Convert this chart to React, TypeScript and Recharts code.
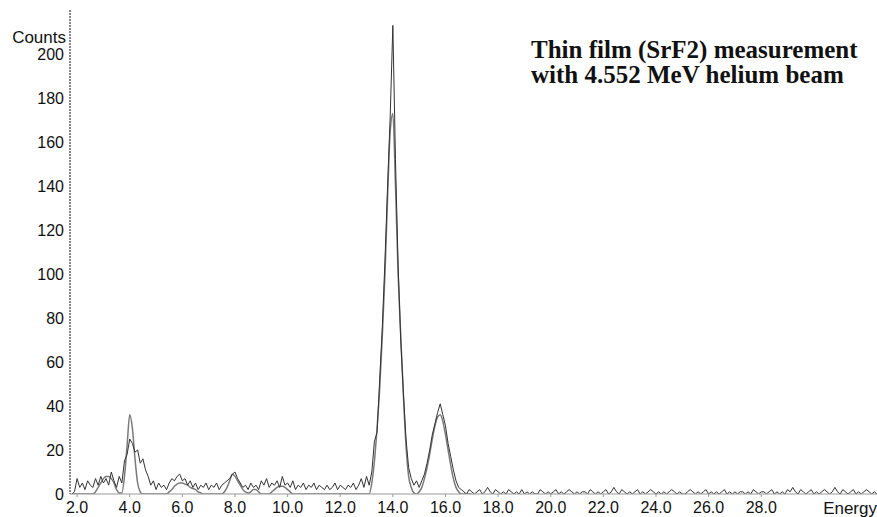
import { LineChart, Line, XAxis, YAxis } from 'recharts';

// spectrum channels: energy = START + i * STEP
const START = 1.8;
const STEP = 0.1;

const measured = [
  0, 1,
  7, 3, 5, 2, 6, 4, 3, 7, 4, 8,
  5, 7, 4, 10, 6, 3, 8, 5, 15, 18,
  25, 23, 19, 20, 14, 16, 11, 8, 4, 6,
  2, 5, 3, 4, 2, 5, 7, 6, 8, 9,
  6, 7, 4, 6, 3, 5, 2, 4, 3, 5,
  2, 4, 3, 5, 2, 4, 5, 6, 7, 9,
  10, 7, 5, 3, 4, 2, 5, 3, 4, 2,
  6, 4, 7, 3, 5, 4, 6, 3, 8, 4,
  5, 3, 6, 2, 4, 3, 5, 2, 4, 3,
  5, 2, 4, 3, 2, 4, 2, 3, 5, 2,
  4, 3, 2, 4, 3, 5, 2, 4, 7, 3,
  8, 4, 10, 24, 28, 52, 76, 106, 140, 172,
  213, 152, 104, 70, 46, 25, 12, 7, 4, 6,
  3, 6, 9, 14, 20, 27, 32, 37, 41, 36,
  31, 23, 17, 11, 6, 3, 2, 1, 0, 2,
  1, 0, 1, 2, 0, 1, 3, 1, 0, 2,
  1, 0, 1, 0, 2, 1, 0, 1, 0, 2,
  0, 1, 0, 1, 0, 0, 2, 1, 0, 1,
  0, 1, 2, 0, 1, 0, 1, 2, 1, 0,
  1, 0, 1, 1, 0, 2, 1, 0, 1, 0,
  1, 2, 0, 1, 3, 1, 0, 2, 1, 0,
  1, 0, 1, 2, 0, 1, 0, 1, 2, 1,
  0, 1, 0, 1, 0, 1, 2, 1, 0, 1,
  0, 0, 1, 2, 1, 0, 1, 0, 1, 2,
  0, 1, 0, 1, 0, 1, 2, 0, 1, 0,
  1, 0, 1, 1, 0, 1, 0, 2, 1, 0,
  1, 1, 0, 1, 2, 0, 1, 0, 1, 0,
  2, 1, 3, 1, 0, 2, 1, 0, 1, 2,
  0, 1, 0, 1, 2, 1, 0, 1, 3, 1,
  0, 2, 1, 0, 1, 2, 0, 1, 0, 1,
  2, 1, 0, 1, 0,
];

const simulated = [
  0, 0,
  0, 0, 0, 0, 0, 0, 0, 1, 3, 5,
  7, 8, 8, 7, 5, 2, 0.5, 0.5, 8, 22,
  36, 30, 16, 5, 1, 0, 0, 0, 0, 0,
  0, 0, 0, 0, 0, 1, 2, 3.5, 4.5, 5,
  5, 4.5, 4, 3, 2.5, 2, 1, 0.5, 0, 0,
  0, 0, 0, 0, 0, 0, 1, 3, 6, 9,
  8, 6, 4, 2, 1, 0.5, 1, 2, 2, 1,
  0, 0, 0, 0, 1, 2, 3, 3.5, 3.5, 3,
  2, 1, 0, 0, 0, 0, 0, 0, 0, 0,
  0, 0, 0, 0, 0, 0, 0, 0, 0, 0,
  0, 0, 0, 0, 0, 0, 0, 0, 0, 0,
  0, 0, 5, 15, 30, 48, 72, 100, 135, 165,
  173, 140, 100, 72, 45, 22, 8, 3, 0.5, 0,
  1, 3, 7, 12, 18, 25, 31, 35, 36, 33,
  27, 20, 13, 7, 3, 1, 0, 0, 0, 0,
  0,
];

const xTicks = [2, 4, 6, 8, 10, 12, 14, 16, 18, 20, 22, 24, 26, 28];
const yTicks = [0, 20, 40, 60, 80, 100, 120, 140, 160, 180, 200];

const rows = measured.map((m, i) => ({
  energy: Math.round((START + i * STEP) * 10) / 10,
  measured: m,
  simulated: simulated[i],
}));

const tickStyle = { fontSize: 16, fill: '#111', fontFamily: 'Liberation Sans, Arial, sans-serif' };

export default function App() {
  return (
    <div style={{ position: 'absolute', left: 0, top: 0, width: 877, height: 517, background: '#fff' }}>
      <LineChart width={877} height={517} data={rows} margin={{ top: 10, right: 0, left: 0, bottom: 0 }}>
        <XAxis
          dataKey="energy"
          type="number"
          domain={[1.73, 32.4]}
          ticks={xTicks}
          tickFormatter={(v) => v.toFixed(1)}
          height={23}
          interval={0}
          stroke="#999"
          tickSize={3}
          tickMargin={5}
          tick={tickStyle}
          allowDataOverflow
        />
        <YAxis
          type="number"
          domain={[0, 220]}
          ticks={yTicks}
          width={70}
          interval={0}
          axisLine={{ stroke: '#888', strokeWidth: 2, strokeDasharray: '2 1' }}
          tickLine={false}
          tickMargin={0}
          tick={tickStyle}
          allowDataOverflow
        />
        <Line
          type="monotone"
          dataKey="simulated"
          stroke="#7a7a7a"
          strokeWidth={1.5}
          dot={false}
          isAnimationActive={false}
        />
        <Line
          type="linear"
          dataKey="measured"
          stroke="#333"
          strokeWidth={1}
          dot={false}
          isAnimationActive={false}
        />
      </LineChart>
      <div style={{ position: 'absolute', right: 811, top: 28, fontSize: 17, lineHeight: '20px', fontFamily: 'Liberation Sans, Arial, sans-serif', color: '#111' }}>
        Counts
      </div>
      <div style={{ position: 'absolute', right: 0, top: 499, fontSize: 17, lineHeight: '20px', fontFamily: 'Liberation Sans, Arial, sans-serif', color: '#111' }}>
        Energy
      </div>
      <div
        style={{
          position: 'absolute',
          left: 531,
          top: 37,
          fontSize: 25,
          lineHeight: '25px',
          fontWeight: 'bold',
          fontFamily: 'Liberation Serif, Times New Roman, serif',
          color: '#111',
        }}
      >
        Thin film (SrF2) measurement
        <br />
        with 4.552 MeV helium beam
      </div>
    </div>
  );
}
